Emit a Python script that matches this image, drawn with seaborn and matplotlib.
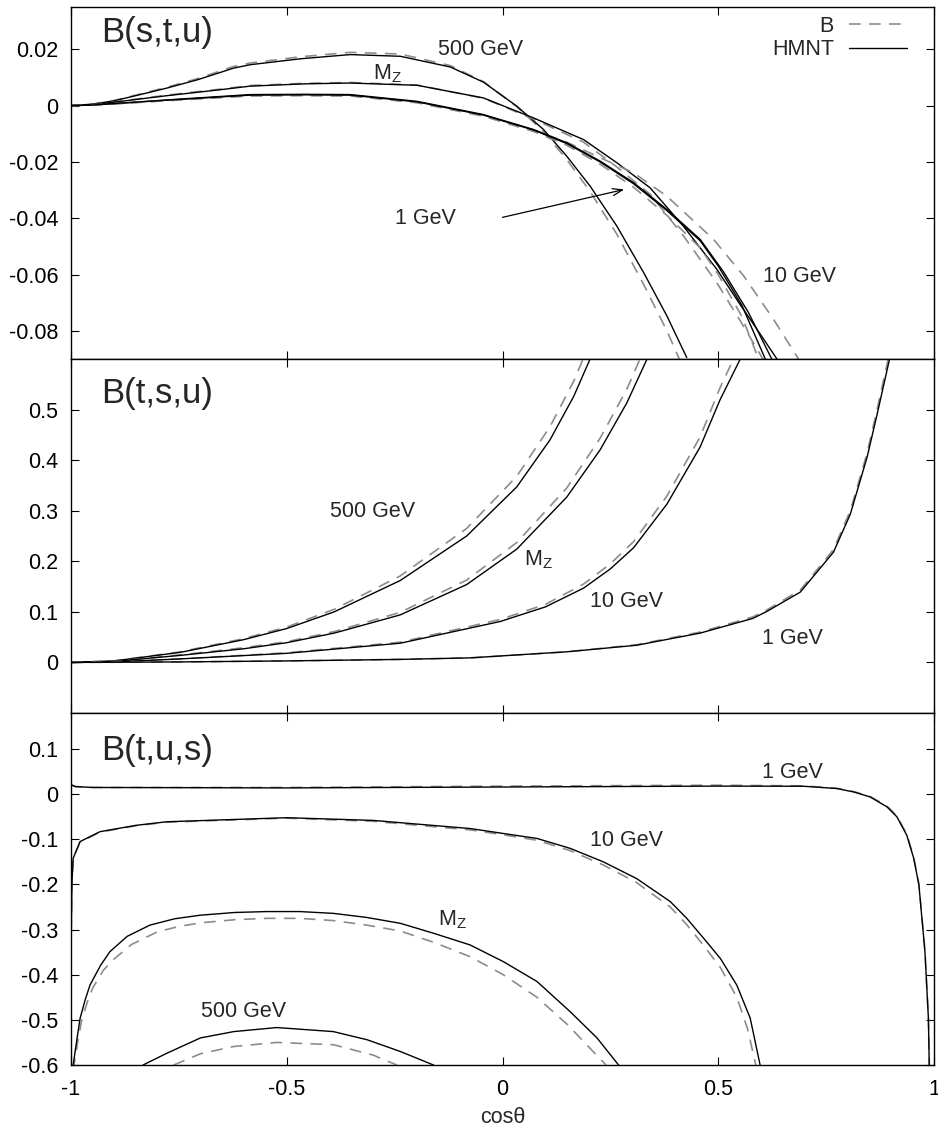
import numpy as np
import pandas as pd
import matplotlib
matplotlib.use("Agg")
import matplotlib.pyplot as plt
from matplotlib.lines import Line2D
import seaborn as sns

# ---------------- data ----------------
x_ticks = [-1, -0.5, 0, 0.5, 1]
x_ticklabels = ["-1", "-0.5", "0", "0.5", "1"]
xlabel = "cos\u03b8"

# Panel 1: B(s,t,u)
p1_title = "B(s,t,u)"
p1_yticks = [-0.08, -0.06, -0.04, -0.02, 0, 0.02]
p1_yticklabels = ["-0.08", "-0.06", "-0.04", "-0.02", "0", "0.02"]
p1_ylim = (-0.09, 0.035)

p1_500_x = [-1, -0.95, -0.9, -0.845, -0.778, -0.706, -0.623, -0.585, -0.469, -0.353, -0.237, -0.121, -0.044, 0.033, 0.095, 0.149, 0.203, 0.265, 0.327, 0.381, 0.427]
p1_500_h = [0, 0.0005, 0.0017, 0.0037, 0.0062, 0.0092, 0.0133, 0.0145, 0.0166, 0.0181, 0.0175, 0.0137, 0.0083, -0.0002, -0.0085, -0.0180, -0.0286, -0.0428, -0.0593, -0.0747, -0.0895]
p1_500_b = [0, 0.0005, 0.0018, 0.0039, 0.0065, 0.0096, 0.0139, 0.0151, 0.0173, 0.0189, 0.0183, 0.0142, 0.0085, -0.0004, -0.0092, -0.0192, -0.0305, -0.0457, -0.0635, -0.0800, -0.0960]

p1_mz_x = [-1, -0.95, -0.9, -0.778, -0.65, -0.585, -0.459, -0.353, -0.198, -0.044, 0.072, 0.188, 0.265, 0.342, 0.419, 0.497, 0.55, 0.59, 0.636]
p1_mz_h = [0, 0.0004, 0.0012, 0.0035, 0.0057, 0.0069, 0.0077, 0.0080, 0.0072, 0.0027, -0.0044, -0.0121, -0.0203, -0.0292, -0.0428, -0.0582, -0.0705, -0.0795, -0.0900]
p1_mz_b = [0, 0.0004, 0.0013, 0.0037, 0.0059, 0.0071, 0.0079, 0.0082, 0.0073, 0.0026, -0.0048, -0.0130, -0.0218, -0.0315, -0.0462, -0.0630, -0.0762, -0.0865, -0.0985]

p1_10_x = [-1, -0.95, -0.9, -0.768, -0.585, -0.459, -0.353, -0.198, -0.044, 0.072, 0.149, 0.226, 0.304, 0.381, 0.458, 0.512, 0.57, 0.624]
p1_10_h = [0, 0.0002, 0.0007, 0.0021, 0.0039, 0.0040, 0.0039, 0.0015, -0.0032, -0.0085, -0.0132, -0.0197, -0.0274, -0.0369, -0.0475, -0.0590, -0.0735, -0.0900]
p1_10_xb = [-1, -0.95, -0.9, -0.768, -0.585, -0.459, -0.353, -0.198, -0.044, 0.072, 0.149, 0.226, 0.304, 0.381, 0.489, 0.559, 0.628, 0.686]
p1_10_b = [0, 0.0002, 0.0006, 0.0019, 0.0036, 0.0037, 0.0035, 0.0011, -0.0036, -0.0088, -0.0130, -0.0185, -0.0239, -0.0322, -0.0475, -0.0605, -0.0759, -0.0900]

p1_1_x = [-1, -0.95, -0.9, -0.768, -0.585, -0.459, -0.353, -0.198, -0.044, 0.072, 0.149, 0.226, 0.304, 0.381, 0.458, 0.5, 0.555, 0.609]
p1_1_h = [0, 0.0002, 0.0007, 0.0020, 0.0037, 0.0038, 0.0037, 0.0013, -0.0034, -0.0087, -0.0135, -0.0200, -0.0278, -0.0373, -0.0480, -0.0570, -0.0710, -0.0900]
p1_1_b = [0, 0.0002, 0.0006, 0.0018, 0.0034, 0.0035, 0.0034, 0.0010, -0.0038, -0.0092, -0.0141, -0.0208, -0.0290, -0.0390, -0.0505, -0.0600, -0.0750, -0.0960]

# Panel 2: B(t,s,u)
p2_title = "B(t,s,u)"
p2_yticks = [0, 0.1, 0.2, 0.3, 0.4, 0.5]
p2_yticklabels = ["0", "0.1", "0.2", "0.3", "0.4", "0.5"]
p2_ylim = (-0.1, 0.6)

p2_500_x = [-1, -0.9, -0.746, -0.6, -0.5, -0.39, -0.237, -0.083, 0.033, 0.11, 0.165, 0.203]
p2_500_h = [0, 0.003, 0.020, 0.045, 0.067, 0.100, 0.162, 0.250, 0.347, 0.440, 0.526, 0.600]
p2_500_b = [0, 0.003, 0.021, 0.047, 0.070, 0.105, 0.171, 0.265, 0.368, 0.466, 0.556, 0.633]

p2_mz_x = [-1, -0.9, -0.746, -0.6, -0.5, -0.39, -0.237, -0.083, 0.033, 0.149, 0.226, 0.288, 0.335]
p2_mz_h = [0, 0.002, 0.014, 0.027, 0.039, 0.058, 0.094, 0.154, 0.224, 0.327, 0.420, 0.513, 0.600]
p2_mz_b = [0, 0.002, 0.015, 0.029, 0.041, 0.061, 0.099, 0.163, 0.237, 0.345, 0.443, 0.540, 0.632]

p2_10_x = [-1, -0.9, -0.746, -0.5, -0.237, -0.005, 0.1, 0.188, 0.25, 0.304, 0.381, 0.458, 0.504, 0.551]
p2_10_h = [0, 0.001, 0.007, 0.018, 0.038, 0.081, 0.110, 0.147, 0.185, 0.227, 0.313, 0.426, 0.519, 0.600]
p2_10_b = [0, 0.001, 0.007, 0.019, 0.040, 0.085, 0.115, 0.155, 0.195, 0.239, 0.329, 0.446, 0.543, 0.628]

p2_1_x = [-1, -0.75, -0.5, -0.237, -0.075, 0.149, 0.311, 0.458, 0.58, 0.613, 0.69, 0.767, 0.806, 0.845, 0.868, 0.897]
p2_1_h = [0, 0.001, 0.003, 0.006, 0.009, 0.021, 0.034, 0.058, 0.087, 0.101, 0.139, 0.218, 0.293, 0.406, 0.490, 0.600]
p2_1_b = [0, 0.001, 0.003, 0.006, 0.009, 0.021, 0.035, 0.060, 0.090, 0.104, 0.143, 0.223, 0.300, 0.414, 0.500, 0.612]

# Panel 3: B(t,u,s)
p3_title = "B(t,u,s)"
p3_yticks = [-0.6, -0.5, -0.4, -0.3, -0.2, -0.1, 0, 0.1]
p3_yticklabels = ["-0.6", "-0.5", "-0.4", "-0.3", "-0.2", "-0.1", "0", "0.1"]
p3_ylim = (-0.6, 0.18)

p3_1_x = [-1, -0.99, -0.95, -0.5, 0, 0.5, 0.698, 0.775, 0.814, 0.852, 0.891, 0.914, 0.937, 0.953, 0.965, 0.972, 0.979, 0.983, 0.987, 0.989]
p3_1_h = [0.021, 0.017, 0.015, 0.014, 0.016, 0.018, 0.0177, 0.0126, 0.005, -0.006, -0.028, -0.050, -0.091, -0.142, -0.201, -0.275, -0.349, -0.423, -0.496, -0.600]
p3_1_b = [0.021, 0.017, 0.015, 0.015, 0.018, 0.020, 0.0185, 0.0132, 0.006, -0.005, -0.026, -0.048, -0.089, -0.140, -0.199, -0.272, -0.346, -0.420, -0.494, -0.600]

p3_10_x = [-1, -0.998, -0.995, -0.979, -0.933, -0.85, -0.778, -0.5, -0.3, -0.075, 0.002, 0.08, 0.157, 0.234, 0.311, 0.389, 0.427, 0.466, 0.505, 0.543, 0.574, 0.597]
p3_10_h = [-0.35, -0.20, -0.142, -0.105, -0.083, -0.069, -0.061, -0.052, -0.058, -0.076, -0.087, -0.098, -0.120, -0.150, -0.187, -0.238, -0.275, -0.319, -0.364, -0.423, -0.496, -0.600]
p3_10_xb = [-1, -0.998, -0.995, -0.979, -0.933, -0.85, -0.778, -0.5, -0.3, -0.075, 0.002, 0.08, 0.157, 0.234, 0.311, 0.389, 0.427, 0.466, 0.505, 0.543, 0.568, 0.587]
p3_10_b = [-0.35, -0.20, -0.142, -0.106, -0.084, -0.070, -0.062, -0.053, -0.060, -0.079, -0.090, -0.102, -0.125, -0.157, -0.196, -0.250, -0.289, -0.335, -0.384, -0.450, -0.520, -0.600]

p3_mz_x = [-0.997, -0.995, -0.985, -0.979, -0.967, -0.956, -0.932, -0.91, -0.87, -0.817, -0.76, -0.7, -0.62, -0.546, -0.47, -0.392, -0.315, -0.237, -0.16, -0.075, 0.002, 0.08, 0.157, 0.219, 0.269]
p3_mz_h = [-0.70, -0.60, -0.535, -0.497, -0.455, -0.423, -0.380, -0.349, -0.315, -0.290, -0.276, -0.268, -0.262, -0.260, -0.260, -0.264, -0.273, -0.286, -0.308, -0.334, -0.371, -0.415, -0.482, -0.540, -0.600]
p3_mz_xb = [-0.995, -0.993, -0.983, -0.975, -0.962, -0.95, -0.925, -0.9, -0.86, -0.8, -0.75, -0.7, -0.62, -0.546, -0.47, -0.392, -0.315, -0.237, -0.16, -0.075, 0.002, 0.08, 0.15, 0.2, 0.24]
p3_mz_b = [-0.70, -0.60, -0.540, -0.500, -0.460, -0.430, -0.390, -0.365, -0.333, -0.305, -0.293, -0.285, -0.278, -0.275, -0.275, -0.280, -0.290, -0.303, -0.328, -0.360, -0.400, -0.450, -0.510, -0.560, -0.600]

p3_500_x = [-0.833, -0.778, -0.7, -0.623, -0.523, -0.392, -0.314, -0.237, -0.16]
p3_500_h = [-0.600, -0.574, -0.540, -0.526, -0.517, -0.526, -0.544, -0.570, -0.600]
p3_500_xb = [-0.762, -0.7, -0.623, -0.523, -0.392, -0.3, -0.245]
p3_500_b = [-0.600, -0.575, -0.559, -0.550, -0.555, -0.578, -0.600]

legend_labels = ["B", "HMNT"]

# ---------------- style ----------------
sns.set_style("white")
plt.rcParams["font.family"] = ["Liberation Sans", "DejaVu Sans"]
plt.rcParams["mathtext.fontset"] = "custom"
plt.rcParams["mathtext.rm"] = "Liberation Sans"
plt.rcParams["mathtext.it"] = "Liberation Sans"
plt.rcParams["axes.unicode_minus"] = False

DASH = (0, (7, 5))
GRAY = "#8c8c8c"
FS = 15.5
TFS = 25

fig = plt.figure(figsize=(9.38, 11.34), dpi=100)
L = 71 / 938
W = 863 / 938
def frac(px):
    return 1 - px / 1134

ax1 = fig.add_axes([L, frac(359), W, frac(7) - frac(359)])
ax2 = fig.add_axes([L, frac(713), W, frac(359) - frac(713)])
ax3 = fig.add_axes([L, frac(1065), W, frac(713) - frac(1065)])

def draw(ax, x, y, dashed):
    if dashed:
        sns.lineplot(x=x, y=y, ax=ax, color=GRAY, lw=1.2, linestyle=DASH,
                     sort=False, estimator=None)
    else:
        sns.lineplot(x=x, y=y, ax=ax, color="black", lw=1.0,
                     sort=False, estimator=None)

# panel 1
draw(ax1, p1_500_x, p1_500_b, True); draw(ax1, p1_500_x, p1_500_h, False)
draw(ax1, p1_mz_x, p1_mz_b, True); draw(ax1, p1_mz_x, p1_mz_h, False)
draw(ax1, p1_10_xb, p1_10_b, True); draw(ax1, p1_10_x, p1_10_h, False)
draw(ax1, p1_1_x, p1_1_b, True); draw(ax1, p1_1_x, p1_1_h, False)

# panel 2
for xs, hb, bb in [(p2_500_x, p2_500_h, p2_500_b), (p2_mz_x, p2_mz_h, p2_mz_b),
                   (p2_10_x, p2_10_h, p2_10_b), (p2_1_x, p2_1_h, p2_1_b)]:
    draw(ax2, xs, bb, True)
    draw(ax2, xs, hb, False)

# panel 3
draw(ax3, p3_1_x, p3_1_b, True); draw(ax3, p3_1_x, p3_1_h, False)
draw(ax3, p3_10_xb, p3_10_b, True); draw(ax3, p3_10_x, p3_10_h, False)
draw(ax3, p3_mz_xb, p3_mz_b, True); draw(ax3, p3_mz_x, p3_mz_h, False)
draw(ax3, p3_500_xb, p3_500_b, True); draw(ax3, p3_500_x, p3_500_h, False)

MZ = r"M$_\mathrm{Z}$"

for ax, ylim, yt, ytl, title, ty in [
        (ax1, p1_ylim, p1_yticks, p1_yticklabels, p1_title, 0.0258),
        (ax2, p2_ylim, p2_yticks, p2_yticklabels, p2_title, 0.532),
        (ax3, p3_ylim, p3_yticks, p3_yticklabels, p3_title, 0.097)]:
    ax.set_xlim(-1, 1)
    ax.set_ylim(*ylim)
    ax.set_yticks(yt)
    ax.set_yticklabels(ytl, fontsize=FS)
    ax.set_xticks(x_ticks)
    ax.tick_params(direction="in", length=6, width=0.8, top=True, right=True,
                   bottom=True, left=True, colors="black")
    ax.tick_params(axis="y", pad=9)
    ax.tick_params(axis="x", pad=10)
    for s in ax.spines.values():
        s.set_linewidth(1.0)
        s.set_color("black")
        s.set_visible(True)
    ax.set_xlabel("")
    ax.set_ylabel("")
    ax.text(-0.931, ty, title, fontsize=TFS, ha="left", va="center")

ax1.set_xticklabels([])
ax2.set_xticklabels([])
ax3.set_xticklabels(x_ticklabels, fontsize=FS)
ax3.set_xlabel(xlabel, fontsize=FS, labelpad=5)

# labels panel 1
ax1.text(-0.05, 0.0199, "500 GeV", fontsize=FS, ha="center", va="center")
ax1.text(-0.267, 0.0113, MZ, fontsize=FS, ha="center", va="center")
ax1.text(0.688, -0.0606, "10 GeV", fontsize=FS, ha="center", va="center")
ax1.text(-0.178, -0.040, "1 GeV", fontsize=FS, ha="center", va="center")
ax1.annotate("", xy=(0.282, -0.0298), xytext=(0.0, -0.0397),
             arrowprops=dict(arrowstyle="->,head_length=0.7,head_width=0.25",
                             lw=0.9, color="black", shrinkA=0, shrinkB=0))

# labels panel 2
ax2.text(-0.30, 0.299, "500 GeV", fontsize=FS, ha="center", va="center")
ax2.text(0.083, 0.203, MZ, fontsize=FS, ha="center", va="center")
ax2.text(0.287, 0.120, "10 GeV", fontsize=FS, ha="center", va="center")
ax2.text(0.671, 0.048, "1 GeV", fontsize=FS, ha="center", va="center")

# labels panel 3
ax3.text(0.672, 0.049, "1 GeV", fontsize=FS, ha="center", va="center")
ax3.text(0.287, -0.102, "10 GeV", fontsize=FS, ha="center", va="center")
ax3.text(-0.116, -0.279, MZ, fontsize=FS, ha="center", va="center")
ax3.text(-0.60, -0.482, "500 GeV", fontsize=FS, ha="center", va="center")

handles = [Line2D([], [], color=GRAY, lw=1.2, linestyle=DASH),
           Line2D([], [], color="black", lw=1.0)]
ax1.legend(handles, legend_labels, loc="upper right",
           bbox_to_anchor=((907 - 71) / 863, 1 - (16 - 7) / 352),
           markerfirst=False, frameon=False, fontsize=FS, borderpad=0,
           borderaxespad=0, handlelength=2.7, handletextpad=0.7,
           labelspacing=0.1)

fig.savefig("out.png", dpi=100)
